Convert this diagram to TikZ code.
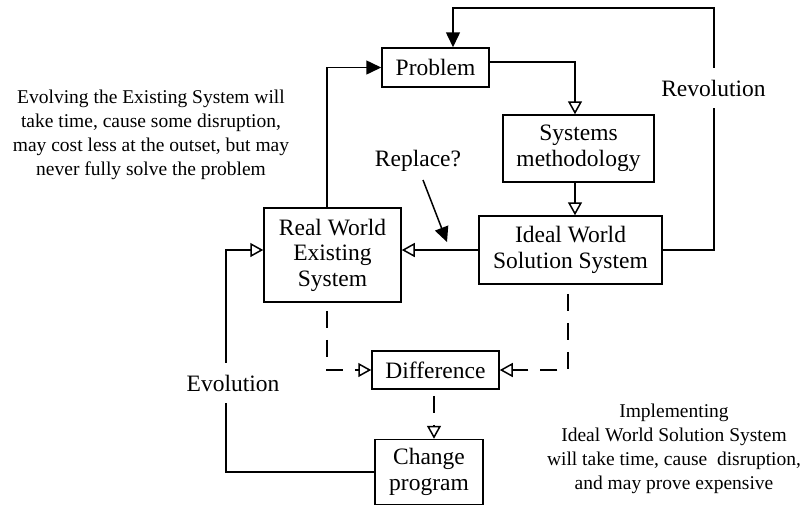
\documentclass[tikz,border=0pt]{standalone}
\usepackage{fontspec}
\setmainfont{Liberation Serif}
\usetikzlibrary{arrows.meta}
\begin{document}
\begin{tikzpicture}[x=1pt,y=-1pt,
  wire/.style={line width=1.5pt, draw=black},
  box/.style={wire, inner sep=0pt, align=center,
    font=\fontsize{23.5}{25.5}\selectfont},
  hollow/.style={wire, -{Triangle[open, length=13pt, width=14pt]}},
  filledtip/.style={wire, -{Triangle[length=15pt, width=14pt]}},
  dashwire/.style={hollow, dash pattern=on 17pt off 12pt},
  note/.style={align=center, font=\fontsize{19.5}{24}\selectfont},
  tag/.style={fill=white, inner xsep=3pt, inner ysep=12pt,
    font=\fontsize{23.5}{25}\selectfont}]
\useasboundingbox (0,0) rectangle (804,507);

% boxes
\node[box, minimum width=107pt, minimum height=39pt] (prob) at (435.5,67.5) {Problem};
\node[box, minimum width=151pt, minimum height=67pt] (meth) at (578.5,148.5) {Systems\\methodology};
\node[box, minimum width=183pt, minimum height=68pt] (ideal) at (570.5,250) {Ideal World\\Solution System};
\node[box, minimum width=137pt, minimum height=94pt] (real) at (332.5,255) {Real World\\Existing\\System};
\node[box, minimum width=127pt, minimum height=38pt] (diff) at (435.5,370) {Difference};
\node[box, minimum width=108pt, minimum height=65pt] (change) at (429,472) {Change\\program};

% bend points of the outer loops
\coordinate (revtop) at (714,8);
\coordinate (evorail) at (226,250);

% solid connectors
\draw[hollow] ([yshift=5.5pt]prob.east) -| ([xshift=-3.5pt]meth.north);
\draw[hollow] ([xshift=-3.5pt]meth.south) -- ([xshift=-3.5pt]meth.south |- ideal.north);
\draw[hollow] (ideal.west) -- (ideal.west -| real.east);
\draw[filledtip] ([xshift=-5.5pt]real.north) |- (prob.west);
\draw[filledtip] (ideal.east) -| (revtop) -| ([xshift=17.5pt]prob.north);
\draw[hollow] (change.west) -| (evorail) -- (evorail -| real.west);

% dashed connectors
\draw[dashwire, dash phase=21pt] ([xshift=-5.5pt]real.south) |- (diff.west);
\draw[dashwire, dash phase=20pt] ([xshift=-2.5pt]ideal.south) |- (diff.east);
\draw[dashwire, dash phase=23pt] ([xshift=-1.5pt]diff.south) -- ([xshift=-1.5pt]diff.south |- change.north);

% loop labels
\node[tag] (rev) at (713.5,88) {Revolution};
\node[tag] (evo) at (233,383) {Evolution};

% replace pointer
\node[font=\fontsize{23.5}{25}\selectfont, inner sep=1pt] (rep) at (418,161) {Replace?};
\coordinate (repfrom) at (423,180);
\coordinate (repto) at (447,242);
\draw[filledtip] (repfrom) -- (repto);

% side notes
\node[note] (leftnote) at (151,134.5) {Evolving the Existing System will\\take time, cause some disruption,\\may cost less at the outset, but may\\never fully solve the problem};
\node[note] (rightnote) at (674,449) {Implementing\\Ideal World Solution System\\will take time, cause\ \ disruption,\\and may prove expensive};
\end{tikzpicture}
\end{document}
